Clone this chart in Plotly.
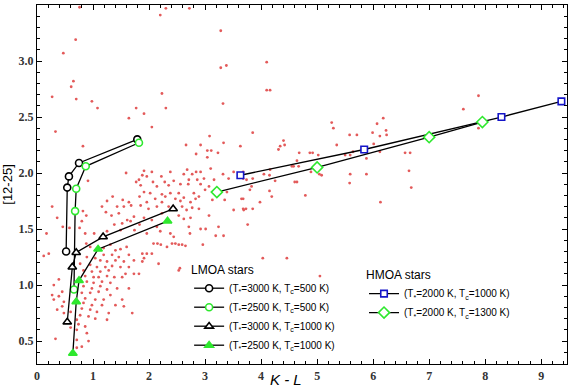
import plotly.graph_objects as go

# ---- observed stars (red dots) ----
dots_x = [0.76,2.20,2.30,2.72,0.69,0.47,0.65,0.61,0.27,0.70,2.23,0.98,1.08,2.30,1.77,1.91,1.64,2.05,
          3.28,3.28,3.38,4.10,4.10,4.16,3.32,
          7.88,7.61,6.18,7.88,6.57,6.66,6.64,6.68,
          0.33,0.82,1.59,0.91,1.77,0.27,0.82,1.35,1.25,1.53,1.64,1.16,1.43,1.55,1.68,1.23,0.36,0.88,1.33,1.46,
          1.61,1.73,0.80,0.46,0.58,0.76,1.38,1.52,1.67,1.02,1.25,0.17,0.86,1.49,1.74,
          3.08,2.66,2.92,3.33,3.63,3.04,3.11,3.23,2.84,3.04,1.91,2.05,2.38,2.68,2.84,3.10,1.88,1.96,2.22,2.62,
          2.77,2.92,3.32,3.42,3.51,1.82,2.07,2.28,2.44,2.71,2.86,2.98,3.16,1.85,2.14,2.35,2.56,2.70,2.92,3.07,
          3.00,1.91,2.02,2.23,2.38,2.53,2.80,2.89,3.39,1.83,2.11,2.29,2.47,2.62,2.83,3.13,3.35,1.96,2.23,2.56,
          2.74,2.35,2.14,2.59,2.67,2.89,2.77,3.51,3.69,1.85,1.99,2.23,2.53,2.62,2.74,3.07,1.91,2.05,1.83,2.14,
          2.71,2.92,3.01,3.24,1.96,2.20,2.38,2.44,2.73,3.19,3.33,
          0.21,0.12,0.88,0.95,1.19,1.31,1.40,1.49,1.60,1.19,1.34,1.46,1.64,0.89,1.04,1.13,1.25,1.40,1.55,1.73,
          0.77,0.95,1.07,1.22,1.34,1.49,1.64,0.83,0.98,1.13,1.28,1.58,1.73,0.86,1.01,1.10,1.25,1.38,1.52,0.39,
          0.89,1.01,1.16,1.31,0.30,0.83,0.98,1.13,1.25,1.43,1.64,0.45,0.80,0.95,1.10,1.31,0.27,0.39,0.86,1.04,
          1.19,1.52,0.30,0.48,0.83,0.98,1.16,1.40,0.45,0.80,0.95,0.36,1.55,1.07,1.28,1.70,0.77,0.92,0.71,1.04,
          1.25,0.74,0.86,0.60,0.71,0.89,0.33,0.71,0.92,0.71,0.80,0.48,0.60,
          2.08,2.15,2.21,2.32,2.41,2.47,2.53,2.59,2.65,2.96,1.88,1.96,2.05,1.91,1.88,2.17,2.53,1.82,
          5.26,6.07,5.29,3.85,5.58,5.71,5.99,6.12,6.23,6.24,4.40,4.34,4.42,4.31,5.35,6.01,4.68,4.87,4.92,5.02,
          5.50,5.59,5.64,6.12,4.64,5.88,4.55,4.58,4.67,3.68,4.16,4.89,5.04,5.08,5.59,5.88,3.68,3.74,3.85,4.05,
          4.15,3.83,4.25,4.60,4.64,5.58,3.80,4.15,4.19,4.79,3.65,3.68,3.98,6.13,3.68,3.73,3.85,3.76,4.03,4.46,
          5.05,2.55]
dots_y = [3.48,3.41,3.47,3.47,3.19,3.07,2.82,2.77,2.68,2.66,2.71,2.64,2.58,2.58,2.58,2.53,2.49,2.41,
          3.27,2.94,2.96,2.99,2.74,2.74,2.62,
          2.69,2.57,2.49,2.40,2.18,2.18,2.02,1.87,
          2.37,2.24,2.00,1.93,1.92,1.70,1.66,1.79,1.75,1.76,1.74,1.70,1.70,1.70,1.71,1.65,1.60,1.62,1.62,1.64,
          1.58,1.61,1.57,1.52,1.51,1.51,1.54,1.55,1.57,1.46,1.48,1.46,1.46,1.49,1.49,
          2.33,2.25,2.25,2.27,2.24,2.20,2.20,2.18,2.17,2.14,2.02,2.01,2.01,2.03,2.01,2.04,1.98,1.97,1.97,1.99,
          1.99,2.01,1.99,1.95,2.01,1.94,1.92,1.92,1.93,1.94,1.94,1.95,1.94,1.89,1.88,1.89,1.90,1.90,1.90,1.88,
          1.85,1.83,1.82,1.81,1.82,1.82,1.82,1.79,1.83,1.79,1.77,1.79,1.77,1.78,1.77,1.76,1.76,1.74,1.74,1.75,
          1.74,1.70,1.70,1.70,1.67,1.68,1.69,1.67,1.67,1.71,1.68,1.64,1.62,1.59,1.60,1.62,1.60,1.58,1.54,1.52,
          1.52,1.50,1.50,1.52,1.46,1.48,1.46,1.43,1.46,1.44,1.44,
          1.28,1.26,1.37,1.34,1.33,1.36,1.31,1.32,1.34,1.27,1.27,1.25,1.27,1.25,1.24,1.22,1.21,1.22,1.21,1.22,
          1.19,1.18,1.16,1.16,1.17,1.16,1.16,1.13,1.12,1.12,1.13,1.10,1.10,1.08,1.07,1.07,1.08,1.07,1.07,1.05,
          1.03,1.02,1.03,1.02,1.00,0.99,0.97,0.99,0.96,0.97,0.97,0.94,0.93,0.93,0.94,0.91,0.91,0.90,0.88,0.87,
          0.87,0.87,0.87,0.85,0.84,0.82,0.82,0.82,0.81,0.79,0.78,0.78,0.81,0.76,0.75,0.75,0.73,0.72,0.69,0.70,
          0.69,0.65,0.63,0.62,0.60,0.57,0.52,0.51,0.50,0.44,0.45,0.75,0.76,
          1.37,1.37,1.36,1.34,1.37,1.37,1.36,1.36,1.35,1.36,1.28,1.28,1.28,1.24,1.21,1.19,1.13,1.10,
          2.45,2.44,2.40,2.36,2.34,2.34,2.36,2.33,2.38,2.34,2.29,2.24,2.25,2.21,2.25,2.26,2.18,2.18,2.18,2.16,
          2.16,2.16,2.19,2.19,2.11,2.13,2.06,2.06,2.06,2.01,2.03,2.01,1.99,1.98,1.99,1.99,1.95,1.94,1.95,1.99,
          1.98,1.88,1.93,1.92,1.92,1.91,1.85,1.84,1.79,1.80,1.77,1.77,1.74,1.74,1.68,1.68,1.68,1.54,1.24,1.24,
          1.08,1.15]

# ---- LMOA model tracks ----
lm1_x = [0.52, 0.54, 0.57, 0.75, 1.79]
lm1_y = [1.30, 1.87, 1.97, 2.09, 2.30]
lm2_x = [0.66, 0.68, 0.70, 0.87, 1.82]
lm2_y = [0.96, 1.66, 1.86, 2.06, 2.27]
lm3_x = [0.54, 0.63, 0.70, 1.18, 2.43]
lm3_y = [0.67, 1.16, 1.29, 1.43, 1.68]
lm4_x = [0.64, 0.70, 0.75, 1.09, 2.33]
lm4_y = [0.39, 0.85, 1.04, 1.32, 1.57]

# ---- HMOA model tracks ----
hm1_x = [3.63, 5.84, 8.29, 9.36]
hm1_y = [1.98, 2.21, 2.50, 2.64]
hm2_x = [3.21, 5.00, 7.00, 7.95]
hm2_y = [1.83, 2.05, 2.32, 2.455]

lm_names = ["(T<sub>*</sub>=3000 K, T<sub>c</sub>=500 K)",
            "(T<sub>*</sub>=2500 K, T<sub>c</sub>=500 K)",
            "(T<sub>*</sub>=3000 K, T<sub>c</sub>=1000 K)",
            "(T<sub>*</sub>=2500 K, T<sub>c</sub>=1000 K)"]
hm_names = ["(T<sub>*</sub>=2000 K, T<sub>c</sub>=1000 K)",
            "(T<sub>*</sub>=2000 K, T<sub>c</sub>=1300 K)"]

GREEN = "#2ee82e"
BLUE = "#1414c8"
SERIF = "Liberation Serif, Times New Roman, serif"
SANS = "Liberation Sans, Arial, sans-serif"

fig = go.Figure()
fig.add_trace(go.Scatter(x=dots_x, y=dots_y, mode="markers", showlegend=False,
                         marker=dict(size=2.8, color="#e35a5a", line=dict(width=0))))

lm_specs = [
    (lm1_x, lm1_y, "circle", "white", "black", 7),
    (lm2_x, lm2_y, "circle", "white", GREEN, 7),
    (lm3_x, lm3_y, "triangle-up", "white", "black", 7.5),
    (lm4_x, lm4_y, "triangle-up", GREEN, GREEN, 7.5),
]
for (xs, ys, sym, fill, edge, sz), nm in zip(lm_specs, lm_names):
    fig.add_trace(go.Scatter(x=xs, y=ys, mode="lines+markers", name=nm, legend="legend",
                             line=dict(color="black", width=1.3),
                             marker=dict(symbol=sym, size=sz, color=fill,
                                         line=dict(color=edge, width=1.6))))

hm_specs = [
    (hm1_x, hm1_y, "square", "white", BLUE, 6.5),
    (hm2_x, hm2_y, "diamond", "white", GREEN, 8.5),
]
for (xs, ys, sym, fill, edge, sz), nm in zip(hm_specs, hm_names):
    fig.add_trace(go.Scatter(x=xs, y=ys, mode="lines+markers", name=nm, legend="legend2",
                             line=dict(color="black", width=1.3),
                             marker=dict(symbol=sym, size=sz, color=fill,
                                         line=dict(color=edge, width=1.6))))

axis_common = dict(showline=True, linecolor="black", linewidth=1.2, mirror="ticks",
                   ticks="inside", ticklen=5, tickwidth=1, tickcolor="black",
                   showgrid=False, zeroline=False,
                   tickfont=dict(family=SERIF, size=12, color="#333", weight="bold"))

fig.update_layout(
    width=570, height=389,
    margin=dict(l=37, r=3, t=5, b=25),
    paper_bgcolor="white", plot_bgcolor="white",
    xaxis=dict(range=[0, 9.46], dtick=1, tick0=0,
               minor=dict(dtick=0.2, ticklen=3, ticks="inside", tickcolor="black"),
               **axis_common),
    yaxis=dict(range=[0.295, 3.5], dtick=0.5, tick0=0.5, tickformat=".1f",
               minor=dict(dtick=0.1, ticklen=3, ticks="inside", tickcolor="black"),
               title=dict(text="[12-25]", font=dict(family=SANS, size=13, color="black"),
                          standoff=6),
               **axis_common),
    annotations=[dict(text="<i>K - L</i>", x=4.44, xref="x", y=-0.042, yref="paper",
                      xanchor="center", yanchor="middle", showarrow=False,
                      font=dict(family=SANS, size=15, color="black"))],
    legend=dict(x=0.287, y=0.295, xanchor="left", yanchor="top",
                bgcolor="rgba(0,0,0,0)", borderwidth=0,
                title=dict(text="LMOA stars", font=dict(family=SANS, size=12, color="black")),
                font=dict(family=SANS, size=10, color="black"),
                tracegroupgap=0, itemwidth=30),
    legend2=dict(x=0.617, y=0.28, xanchor="left", yanchor="top",
                 bgcolor="rgba(0,0,0,0)", borderwidth=0,
                 title=dict(text="HMOA stars", font=dict(family=SANS, size=12, color="black")),
                 font=dict(family=SANS, size=10, color="black"),
                 tracegroupgap=0, itemwidth=30),
)

fig.write_html("out.html", config={"displayModeBar": False},
               post_script="document.body.style.margin='0';")
